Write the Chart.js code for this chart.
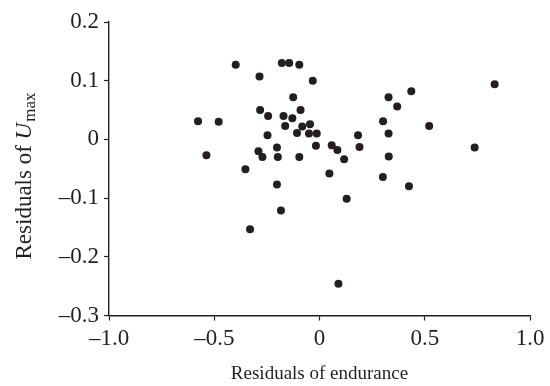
<!DOCTYPE html>
<html>
<head>
<meta charset="utf-8">
<script src="https://cdn.jsdelivr.net/npm/chart.js@4/dist/chart.umd.min.js"></script>
<style>
  html, body { margin: 0; padding: 0; background: #ffffff; }
  #wrap { width: 550px; height: 386px; position: relative; }
</style>
</head>
<body>
<div id="wrap"><canvas id="c"></canvas></div>
<script>
// Residuals of endurance (x) and residuals of Umax (y)
const enduranceResiduals = [
  -0.398, -0.179, -0.144, -0.096, -0.285, -0.032, -0.125, -0.282, -0.090, -0.244,
  -0.171, -0.129, -0.577, -0.479, -0.163, -0.082, -0.045, -0.107, -0.050, -0.013,
  -0.247, -0.202, -0.017, -0.537, -0.290, -0.271, -0.198, -0.096, -0.352, 0.047,
  0.058, 0.085, 0.117, 0.183, 0.190, 0.302, 0.328, 0.369, 0.436, 0.328,
  0.329, 0.301, 0.521, 0.737, 0.832, -0.202, -0.183, -0.330, 0.425, 0.129,
  0.090
];
const umaxResiduals = [
  0.127, 0.130, 0.130, 0.127, 0.107, 0.100, 0.072, 0.050, 0.050, 0.040,
  0.040, 0.036, 0.031, 0.030, 0.023, 0.022, 0.026, 0.011, 0.010, 0.010,
  0.007, -0.014, -0.011, -0.027, -0.020, -0.030, -0.030, -0.030, -0.051, -0.058,
  -0.010, -0.018, -0.034, 0.007, -0.013, 0.031, 0.072, 0.056, 0.082, 0.010,
  -0.029, -0.064, 0.023, -0.014, 0.094, -0.077, -0.121, -0.153, -0.080, -0.101,
  -0.246
];
const xTickValues = [-1.0, -0.5, 0, 0.5, 1.0];
const xTickLabels = ['\u20131.0', '\u20130.5', '0', '0.5', '1.0'];
const yTickValues = [-0.3, -0.2, -0.1, 0, 0.1, 0.2];
const yTickLabels = ['\u20130.3', '\u20130.2', '\u20130.1', '0', '0.1', '0.2'];
const xTitle = 'Residuals of endurance';
const yTitleMain = 'Residuals of ';
const yTitleVar = 'U';
const yTitleSub = 'max';

const ink = '#231f20';
const FONT = "'Liberation Serif', 'Times New Roman', serif";

function labelFor(values, labels, v) {
  for (let i = 0; i < values.length; i++) {
    if (Math.abs(values[i] - v) < 1e-6) return labels[i];
  }
  return '';
}

const points = enduranceResiduals.map((x, i) => ({ x: x, y: umaxResiduals[i] }));

const yTitlePlugin = {
  id: 'yTitle',
  afterDraw(chart) {
    const ctx = chart.ctx;
    ctx.save();
    const cx = 24;
    const cy = 176;
    ctx.translate(cx, cy);
    ctx.rotate(-Math.PI / 2);
    const mainFont = '23px ' + FONT;
    const varFont = 'italic 23px ' + FONT;
    const subFont = '17px ' + FONT;
    ctx.font = mainFont; const w1 = ctx.measureText(yTitleMain).width;
    ctx.font = varFont; const w2 = ctx.measureText(yTitleVar).width;
    ctx.font = subFont; const w3 = ctx.measureText(yTitleSub).width;
    const total = w1 + w2 + w3 + 1;
    let x = -total / 2;
    ctx.fillStyle = ink;
    ctx.textBaseline = 'alphabetic';
    ctx.textAlign = 'left';
    const base = 7;
    ctx.font = mainFont; ctx.fillText(yTitleMain, x, base); x += w1;
    ctx.font = varFont; ctx.fillText(yTitleVar, x, base); x += w2 + 1;
    ctx.font = subFont; ctx.fillText(yTitleSub, x, base + 4);
    ctx.restore();
  }
};

new Chart(document.getElementById('c'), {
  type: 'scatter',
  data: {
    datasets: [{
      data: points,
      backgroundColor: ink,
      borderColor: ink,
      borderWidth: 0,
      pointRadius: 4,
      pointHoverRadius: 4
    }]
  },
  options: {
    responsive: true,
    maintainAspectRatio: false,
    animation: false,
    events: [],
    layout: { padding: { left: 0, right: 20, top: 22, bottom: 0 } },
    plugins: {
      legend: { display: false },
      tooltip: { enabled: false },
      title: { display: false }
    },
    scales: {
      x: {
        type: 'linear',
        min: -1.0,
        max: 1.0,
        afterBuildTicks(scale) { scale.ticks = xTickValues.map(v => ({ value: v })); },
        afterFit(scale) { scale.height = 70.5; },
        grid: { drawOnChartArea: false, drawTicks: true, tickLength: 5, tickColor: ink, tickWidth: 1.2 },
        border: { display: true, color: ink, width: 1.4 },
        ticks: {
          color: ink,
          font: { family: FONT, size: 23 },
          padding: 5,
          maxRotation: 0,
          autoSkip: false,
          callback: (v) => labelFor(xTickValues, xTickLabels, v)
        },
        title: {
          display: true,
          text: xTitle,
          color: ink,
          font: { family: FONT, size: 19 },
          padding: { top: 2, bottom: 1 }
        }
      },
      y: {
        type: 'linear',
        min: -0.3,
        max: 0.2,
        afterBuildTicks(scale) { scale.ticks = yTickValues.map(v => ({ value: v })); },
        afterFit(scale) { scale.width = 109; },
        grid: { drawOnChartArea: false, drawTicks: true, tickLength: 5, tickColor: ink, tickWidth: 1.2 },
        border: { display: true, color: ink, width: 1.4 },
        ticks: {
          color: ink,
          font: { family: FONT, size: 23 },
          padding: 5,
          autoSkip: false,
          callback: (v) => labelFor(yTickValues, yTickLabels, v)
        },
        title: { display: false }
      }
    }
  },
  plugins: [yTitlePlugin]
});
</script>
</body>
</html>
